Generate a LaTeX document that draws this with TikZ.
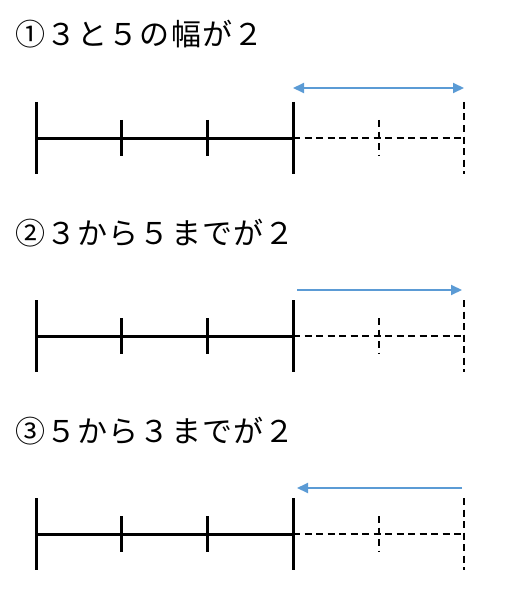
\documentclass[tikz,border=0pt]{standalone}
\usepackage{fontspec}
\newfontfamily\jpfont{Noto Sans CJK JP}[LetterSpace=4]
\usetikzlibrary{arrows.meta}
\definecolor{spanblue}{RGB}{91,155,213}
\tikzstyle{axis} = [line width=3pt]
\tikzstyle{ext} = [line width=2pt, dash pattern=on 7pt off 4.5pt]
\tikzstyle{span} = [draw=spanblue, line width=2pt, -{Triangle[length=11pt,width=10pt]}]
\tikzstyle{title} = [anchor=base west, inner sep=0pt, font=\jpfont\fontsize{30}{30}\selectfont]

% #1 = height of the axis, #2 = name prefix
\newcommand\ruler[2]{
\begin{scope}[shift={(0,#1)}]
  \coordinate (#2-0) at (36,0);
  \coordinate (#2-3) at (293,0);
  \coordinate (#2-5) at (464,0);
  \draw[axis] (#2-0) -- (#2-3);
  \draw[axis] (36,-36) -- (36,36);
  \draw[axis] (121,-18) -- (121,18);
  \draw[axis] (207,-18) -- (207,18);
  \draw[axis] (293,-36) -- (293,36);
  \draw[ext] (#2-3) -- (#2-5);
  \draw[ext] (379,-18) -- (379,18);
  \draw[ext] (464,-36) -- (464,36);
\end{scope}
}

\begin{document}
\begin{tikzpicture}[x=1pt,y=-1pt]
\useasboundingbox (0,0) rectangle (507,599);
% width
\node[title] (t1) at (15,46) {①３と５の幅が２};
\ruler{138}{w}
\coordinate (w-from) at (293,88);
\coordinate (w-to) at (464,88);
\draw[span,{Triangle[length=11pt,width=10pt]}-{Triangle[length=11pt,width=10pt]}] (w-from) -- (w-to);
% from 3 to 5
\node[title] (t2) at (15,244) {②３から５までが２};
\ruler{336}{p}
\coordinate (p-from) at (297,290);
\coordinate (p-to) at (462,290);
\draw[span] (p-from) -- (p-to);
% from 5 to 3
\node[title] (t3) at (15,442) {③５から３までが２};
\ruler{534}{m}
\coordinate (m-from) at (462,488);
\coordinate (m-to) at (297,488);
\draw[span] (m-from) -- (m-to);
\end{tikzpicture}
\end{document}
